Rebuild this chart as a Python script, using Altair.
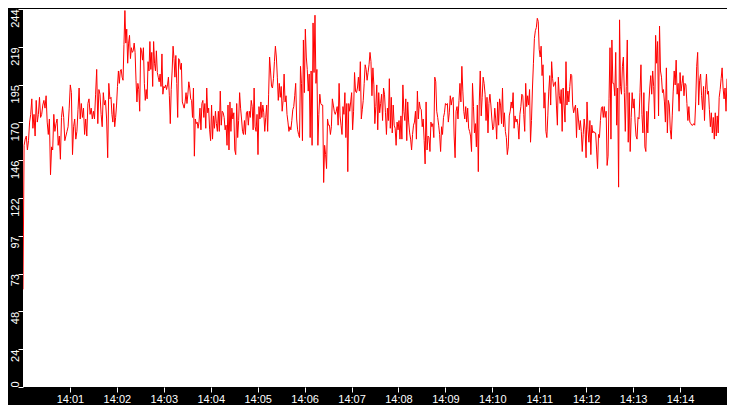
import altair as alt
import numpy as np
import pandas as pd

# samples, one list per stretch of the time axis
SEG_BOUNDS_S = [0, 112.5, 225, 337.5, 431.25, 543.75, 656.25, 768.75, 900]

seg1 = [63, 156, 160, 162, 153, 159, 171, 176, 186, 167, 176, 162, 185, 171, 176, 187, 174, 176,
        182, 185, 180, 188, 171, 163, 173, 137, 155, 153, 176, 165, 170, 173, 156, 162, 147, 174,
        181, 174, 159, 162, 165, 168, 180, 195, 190, 150, 168, 173, 160, 165, 179, 193, 173, 183,
        174, 180, 163, 173, 162, 183, 186, 176, 180, 173, 178, 173, 189, 205, 170, 192, 189, 176,
        168, 190, 182, 185, 173, 148, 196, 186]
seg2 = [187, 176, 171, 183, 168, 174, 182, 194, 204, 196, 204, 205, 200, 198, 221, 243, 222, 231,
        209, 222, 227, 212, 219, 216, 217, 222, 216, 198, 184, 196, 192, 178, 219, 217, 211, 219,
        196, 185, 192, 186, 210, 204, 223, 205, 216, 194, 223, 209, 204, 217, 203, 200, 197, 202,
        194, 215, 189, 194, 193, 195, 192, 195, 200, 188, 170, 192, 204, 220, 212, 200, 214, 196,
        174, 212, 211, 205, 209, 184, 182, 180, 184, 190, 183, 189, 197, 193, 186, 185, 174, 193,
        149, 173, 170, 171, 167]
seg3 = [171, 180, 166, 183, 185, 174, 183, 167, 193, 177, 180, 166, 159, 182, 160, 175, 167, 178,
        170, 165, 178, 165, 191, 169, 178, 177, 174, 166, 169, 156, 182, 153, 184, 165, 180, 173,
        177, 153, 150, 183, 161, 172, 190, 180, 173, 165, 163, 172, 163, 177, 178, 169, 178, 174,
        185, 181, 166, 193, 168, 165, 176, 150, 181, 173, 184, 174, 182, 177, 165, 174, 182, 165,
        189, 213, 204, 194, 193, 199, 210, 220, 213, 200, 185, 196, 187, 194, 178, 185, 202, 184,
        188]
seg4 = [176, 171, 165, 168, 166, 172, 179, 181, 188, 196, 173, 166, 163, 161, 207, 196, 159, 224,
        190, 231, 213, 205, 191, 202, 161, 204, 156, 235, 203, 240, 196, 205, 156, 176, 189, 183,
        182, 182, 132, 156, 150, 141, 173, 169, 169, 163, 168, 186, 182, 178, 176, 178, 181, 169,
        196, 175, 169, 163, 181, 176, 190, 161, 183, 139, 183, 178, 184, 190, 166, 178, 203, 191,
        190, 193, 200, 191]
seg5 = [210, 173, 179, 185, 196, 208, 205, 198, 203, 208, 216, 210, 188, 206, 195, 170, 181, 195,
        166, 190, 177, 183, 189, 172, 193, 189, 177, 163, 180, 172, 199, 167, 187, 164, 182, 169,
        167, 156, 171, 166, 172, 160, 175, 160, 195, 178, 172, 186, 159, 184, 171, 164, 160, 153,
        163, 169, 171, 178, 160, 191, 173, 184, 180, 179, 168, 173, 159, 144, 184, 153, 162, 161,
        152, 171, 168, 170, 161, 200, 197, 178, 174, 169, 163, 152, 168, 163, 174, 177, 183, 182,
        183]
seg6 = [171, 177, 188, 182, 186, 187, 162, 148, 178, 181, 173, 185, 196, 184, 207, 191, 178, 173,
        181, 171, 180, 167, 165, 162, 152, 196, 181, 164, 170, 155, 182, 139, 184, 204, 175, 187,
        200, 196, 189, 172, 187, 164, 183, 189, 182, 173, 166, 168, 180, 173, 160, 184, 169, 186,
        182, 170, 193, 168, 177, 165, 161, 150, 155, 175, 178, 184, 180, 190, 167, 175, 171, 173,
        169, 160, 176, 181, 189, 188, 176, 165, 196, 181, 188, 182, 192, 158, 172, 193, 209, 225,
        230]
seg7 = [232, 238, 236, 218, 213, 220, 201, 208, 180, 190, 165, 161, 175, 191, 201, 182, 210, 199,
        194, 196, 197, 182, 169, 200, 188, 183, 192, 165, 193, 182, 171, 210, 182, 191, 184, 194,
        202, 201, 182, 177, 180, 182, 161, 180, 173, 166, 172, 165, 152, 163, 173, 166, 148, 184,
        166, 158, 172, 150, 169, 164, 165, 164, 164, 153, 141, 163, 161, 172, 180, 181, 174, 181,
        174, 178, 143, 149, 186, 219, 160, 224, 196, 196, 188, 216, 169, 193, 129, 237, 194, 189,
        207, 213]
seg8 = [190, 165, 194, 224, 158, 190, 152, 174, 190, 180, 186, 171, 162, 160, 174, 173, 190, 208,
        176, 164, 190, 155, 152, 178, 164, 182, 193, 201, 189, 204, 194, 173, 227, 209, 223, 175,
        233, 204, 200, 190, 192, 184, 171, 206, 164, 185, 182, 166, 160, 175, 191, 204, 195, 211,
        189, 196, 178, 203, 191, 196, 201, 188, 196, 195, 183, 172, 181, 171, 170, 169, 169, 170,
        169, 184, 207, 216, 182, 198, 202, 188, 179, 194, 172, 192, 202, 189, 191, 179, 168, 177,
        164, 174, 160, 177, 162, 175, 164, 187, 192, 199, 206, 193, 186, 193, 178, 199]

Y_TICKS = [0, 24.4, 48.8, 73.2, 97.6, 122, 146.4, 170.8, 195.2, 219.6, 244]
X_TICK_MINUTES = list(range(1, 15))

START = pd.Timestamp("2024-01-01 14:00:00")
segments = [seg1, seg2, seg3, seg4, seg5, seg6, seg7, seg8]
frames = []
for i, seg in enumerate(segments):
    last = i == len(segments) - 1
    secs = np.linspace(SEG_BOUNDS_S[i], SEG_BOUNDS_S[i + 1], len(seg), endpoint=last)
    frames.append(pd.DataFrame({"t": START + pd.to_timedelta(secs, unit="s"), "v": seg}))
df = pd.concat(frames, ignore_index=True)


def hm(m):
    return alt.DateTime(year=2024, month=1, date=1, hours=14, minutes=m)


FONT = "Liberation Sans"

chart = alt.Chart(df).mark_line(color="#FF0000", strokeWidth=1, clip=True).encode(
    x=alt.X("t:T", title=None,
            scale=alt.Scale(domain=[hm(0), hm(15)], nice=False),
            axis=alt.Axis(values=[hm(m) for m in X_TICK_MINUTES], format="%H:%M",
                          grid=False, domain=False, tickColor="white", tickSize=5,
                          labelColor="white", labelFont=FONT, labelFontSize=11,
                          labelPadding=1, labelFlush=False, labelOverlap=False,
                          minExtent=18, maxExtent=18)),
    y=alt.Y("v:Q", title=None,
            scale=alt.Scale(domain=[0, 244], nice=False, zero=True),
            axis=alt.Axis(values=Y_TICKS, labelExpr="floor(datum.value)",
                          grid=False, domain=False, tickColor="white", tickSize=5,
                          labelColor="white", labelFont=FONT, labelFontSize=11,
                          labelAngle=270,
                          labelAlign={"condition": {"test": "datum.value === 0", "value": "left"},
                                      "value": "right"},
                          labelBaseline="middle", labelPadding=3, labelOverlap=False,
                          labelFlush=False, minExtent=15, maxExtent=15)),
).properties(
    width=719, height=397, background="black", padding=0,
    autosize=alt.AutoSizeParams(type="fit", contains="padding"),
).configure_view(fill="white", strokeWidth=0)

chart.save("out.html", embed_options={"renderer": "svg", "actions": False})
